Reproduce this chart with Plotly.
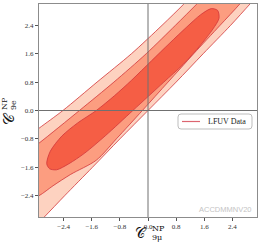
import plotly.graph_objects as go

# ---- axes ----
x_range = [-3.1, 3.1]
y_range = [-3.0, 3.0]
tick_vals = [-2.4, -1.6, -0.8, 0.0, 0.8, 1.6, 2.4]
tick_text = ["−2.4", "−1.6", "−0.8", "0.0", "0.8", "1.6", "2.4"]

# ---- confidence-region boundaries (C9mu, C9e) ----
# 3 sigma region (extends beyond the frame, clipped by the axes)
sig3_x = [-4.4, -3.55, -2.95, -2.37, -1.58, -0.8, 0.0, 0.8, 1.57, 2.35, 2.9, 3.45,
          1.6, 1.02, 0.4, -0.47, -1.45, -2.42, -3.1, -3.5, -4.4]
sig3_y = [-4.45, -3.6, -3.0, -2.4, -1.6, -0.8, 0.0, 0.8, 1.6, 2.4, 3.0, 3.6,
          3.6, 3.0, 2.4, 1.6, 0.8, 0.0, -0.5, -0.8, -1.3]
# 2 sigma region
sig2_x = [3.1, 2.61, 2.05, 1.3, 0.57, -0.16, -0.9, -1.47, -2.2, -2.7, -3.1, -3.6,
          -4.1, -4.4, -4.2, -3.75, -3.1, -1.95, -0.97, -0.05, 0.78, 1.39, 2.0]
sig2_y = [3.6, 3.0, 2.4, 1.6, 0.8, 0.0, -0.8, -1.4, -1.8, -2.12, -2.4, -2.6,
          -2.6, -2.3, -1.8, -1.4, -0.92, 0.0, 0.8, 1.6, 2.4, 3.0, 3.6]
# 1 sigma region
sig1_x = [-2.88, -2.78, -2.45, -2.0, -1.47, -0.95, -0.47, 0.1, 0.62, 1.1, 1.5, 1.8,
          1.98, 2.02, 1.85, 1.5, 1.0, 0.45, -0.43, -1.2, -1.8, -2.25, -2.6, -2.8]
sig1_y = [-1.5, -1.15, -0.72, -0.35, 0.0, 0.42, 0.85, 1.4, 1.9, 2.35, 2.7, 2.87,
          2.82, 2.6, 2.3, 1.85, 1.3, 0.8, 0.0, -0.7, -1.2, -1.5, -1.67, -1.64]

region_colors = ["#fdd2c0", "#fc9d80", "#f55e45"]
edge_color = "#d2363a"

legend_label = "LFUV Data"
legend_color = "#dc6570"
watermark = "ACCDMMNV20"

W, H = 262, 250
L, R, T, B = 39, 5, 4, 33
pw, ph = W - L - R, H - T - B


def px_to_paper(px, py):
    return (px - L) / pw, (H - B - py) / ph


fig = go.Figure()
for xs, ys, col in zip([sig3_x, sig2_x, sig1_x], [sig3_y, sig2_y, sig1_y], region_colors):
    fig.add_trace(go.Scatter(
        x=xs + xs[:1], y=ys + ys[:1], mode="lines", fill="toself",
        fillcolor=col, line=dict(color=edge_color, width=0.8, shape="spline", smoothing=0.8),
        showlegend=False, hoverinfo="skip"))

# reference lines at zero (drawn above the filled regions)
fig.add_vline(x=0, line=dict(color="#707070", width=1), layer="above")
fig.add_hline(y=0, line=dict(color="#707070", width=1), layer="above")

axis_common = dict(
    showgrid=False, zeroline=False, showline=True, mirror=True,
    linecolor="#8c8c8c", linewidth=1, ticks="outside", ticklen=3, tickwidth=0.8,
    tickcolor="#555", tickvals=tick_vals, ticktext=tick_text,
    tickfont=dict(family="Liberation Serif, DejaVu Serif, serif", size=7, color="#333"),
)
fig.update_xaxes(range=x_range, **axis_common)
fig.update_yaxes(range=y_range, **axis_common)

serif = "DejaVu Serif, Liberation Serif, serif"
ann = [
    # x-axis title: C^NP_{9mu}
    dict(text="𝒞", x=141, y=233, xanchor="center", font=dict(size=14, family=serif, color="#111")),
    dict(text="NP", x=150, y=228, xanchor="left", font=dict(size=8, family=serif, color="#111")),
    dict(text="9μ", x=150, y=237, xanchor="left", font=dict(size=8, family=serif, color="#111")),
    # y-axis title: C^NP_{9e} (rotated)
    dict(text="𝒞", x=9, y=119, xanchor="center", textangle=-90, font=dict(size=15, family=serif, color="#111")),
    dict(text="NP", x=4, y=104, xanchor="center", textangle=-90, font=dict(size=8, family=serif, color="#111")),
    dict(text="9e", x=14, y=105, xanchor="center", textangle=-90, font=dict(size=8, family=serif, color="#111")),
    # legend text and watermark
    dict(text=legend_label, x=227, y=121.5, xanchor="center", font=dict(size=8, family="Liberation Serif, serif", color="#222")),
    dict(text=watermark, x=225, y=209.5, xanchor="center", font=dict(size=7.5, family="Liberation Sans, Arial, sans-serif", color="#c4c4c4")),
]

new_ann = []
for a in ann:
    d = dict(a)
    xp, yp = px_to_paper(d.pop("x"), d.pop("y"))
    d.update(x=xp, y=yp, xref="paper", yref="paper", showarrow=False, yanchor="middle")
    new_ann.append(d)

# legend box (rounded) and line sample, in pixel coords -> paper
bx0, by0 = px_to_paper(178, 129)
bx1, by1 = px_to_paper(252, 114)
r_x, r_y = 3 / pw, 3 / ph
path = (f"M {bx0 + r_x},{by0} L {bx1 - r_x},{by0} Q {bx1},{by0} {bx1},{by0 + r_y} "
        f"L {bx1},{by1 - r_y} Q {bx1},{by1} {bx1 - r_x},{by1} L {bx0 + r_x},{by1} "
        f"Q {bx0},{by1} {bx0},{by1 - r_y} L {bx0},{by0 + r_y} Q {bx0},{by0} {bx0 + r_x},{by0} Z")
fig.add_shape(type="path", path=path, xref="paper", yref="paper",
              line=dict(color="#bdbdbd", width=1), fillcolor="rgba(255,255,255,0.85)", layer="above")
lx0, ly = px_to_paper(182, 121.5)
lx1, _ = px_to_paper(200, 121.5)
fig.add_shape(type="line", xref="paper", yref="paper", x0=lx0, x1=lx1, y0=ly, y1=ly,
              line=dict(color=legend_color, width=1.2), layer="above")

fig.update_layout(
    width=W, height=H, margin=dict(l=L, r=R, t=T, b=B),
    paper_bgcolor="white", plot_bgcolor="white", showlegend=False,
    annotations=new_ann,
)

fig.write_html("out.html", config={"displayModeBar": False},
               post_script="document.body.style.margin='0px';")
